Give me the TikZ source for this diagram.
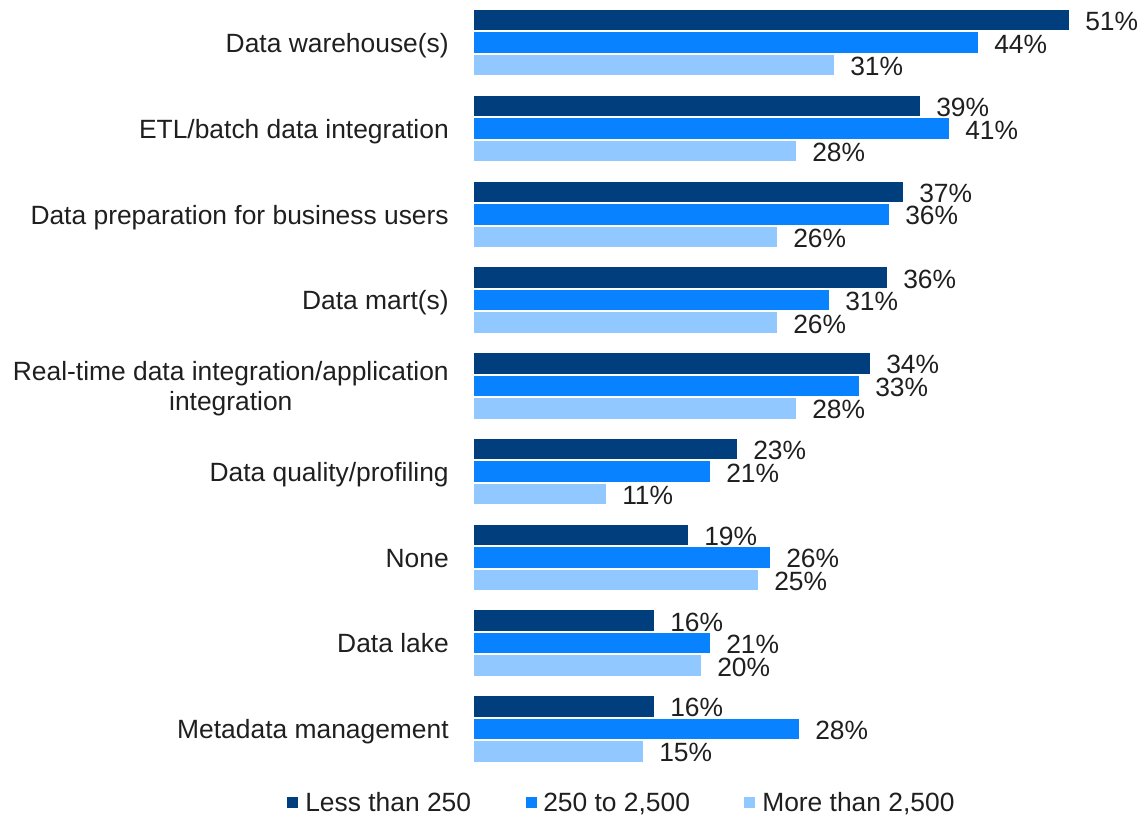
\documentclass[tikz,border=0pt]{standalone}
\usepackage{fontspec}
\setmainfont{Liberation Sans}
\definecolor{cdark}{RGB}{0,62,126}
\definecolor{cmid}{RGB}{8,130,255}
\definecolor{clight}{RGB}{145,200,255}
\tikzset{
  pct/.style={font=\fontsize{19.8}{22.5}\selectfont, inner sep=0pt, anchor=base west, text=black!88},
  cat/.style={font=\fontsize{19.8}{22.5}\selectfont, inner sep=0pt, anchor=base east, align=center, text=black!88},
  key/.style={minimum size=8.25pt, inner sep=0pt, anchor=west},
}

\begin{document}
\begin{tikzpicture}[x=0.75pt, y=-0.75pt] % one unit is one pixel of the target
    \useasboundingbox (0,0) rectangle (1147,817);

    % Three bars per category: end x of each bar, printed values, label shift
    \foreach \lab/\ea/\eb/\ec/\pa/\pb/\pc/\dy [count=\i from 0] in {
        {Data warehouse(s)}/1069/978/834/51/44/31/0,
        {ETL/batch data integration}/920/949/796/39/41/28/0,
        {Data preparation for business users}/903/889/777/37/36/26/0,
        {Data mart(s)}/887/829/777/36/31/26/0,
        {Real-time data integration/application\\integration}/870/859/796/34/33/28/15,
        {Data quality/profiling}/737/710/606/23/21/11/0,
        {None}/688/770/758/19/26/25/0,
        {Data lake}/654/710/701/16/21/20/0,
        {Metadata management}/654/799/643/16/28/15/0}{
        \pgfmathsetmacro{\g}{10+85.75*\i}
        % Draw the bars
        \fill[cdark] (474,\g) rectangle (\ea,\g+20.5);
        \fill[cmid] (474,\g+22.5) rectangle (\eb,\g+43);
        \fill[clight] (474,\g+45) rectangle (\ec,\g+65.5);
        % Add the values
        \node[pct] (va\i) at (\ea+16,\g+20.75) {\pa\%};
        \node[pct] (vb\i) at (\eb+16,\g+43.25) {\pb\%};
        \node[pct] (vc\i) at (\ec+16,\g+65.75) {\pc\%};
        % Add the category name
        \node[cat] (cat\i) at (449,\g+42.5+\dy) {\lab};
    }

    % Legend
    \node[key, fill=cdark] (keya) at (287,802) {};
    \node[pct] (texta) at (305,811) {Less than 250};
    \node[key, fill=cmid] (keyb) at (526,802) {};
    \node[pct] (textb) at (543,811) {250 to 2,500};
    \node[key, fill=clight] (keyc) at (744,802) {};
    \node[pct] (textc) at (762,811) {More than 2,500};
\end{tikzpicture}
\end{document}
